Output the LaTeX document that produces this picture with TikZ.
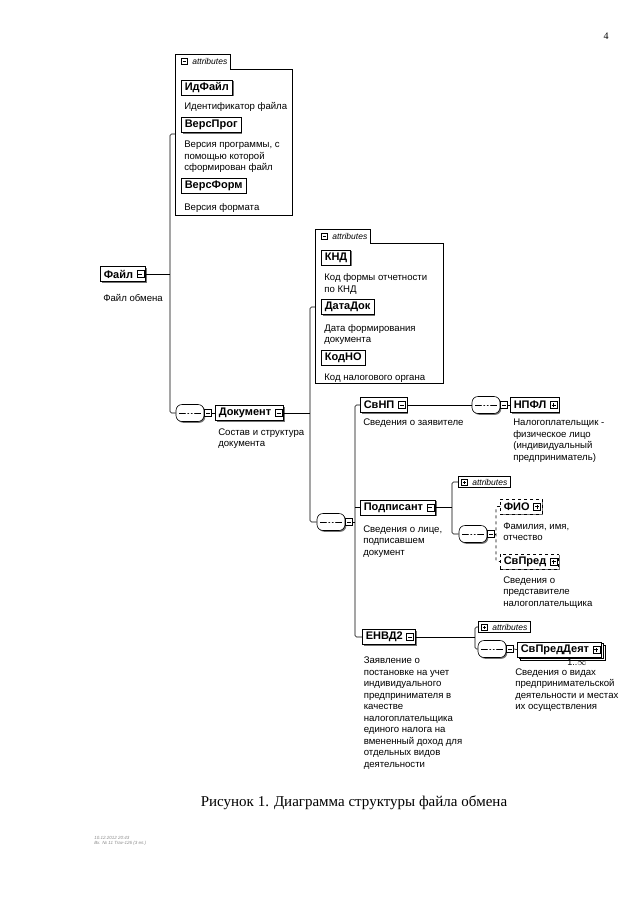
\documentclass[tikz,border=0pt]{standalone}
\usepackage{fontspec}
\setmainfont{Liberation Serif}
\newfontfamily\arial{Liberation Sans}
\usetikzlibrary{positioning,shadows}

% knopka at the right end of an element box
\newcommand{\kvadrat}[2]{\node[#1] at ([xshift=-5.5pt]#2.east) {};}
\newcommand{\mesto}{\hspace{9pt}\null}

\begin{document}
\begin{tikzpicture}[x=1pt, y=-1pt, line width=0.6pt,
    font=\arial\fontsize{9.6}{11.5}\selectfont]
  \tikzstyle{ramka}=[draw, fill=white, anchor=west, inner xsep=3.5pt, inner ysep=0pt,
    minimum height=15pt, font=\arial\bfseries\fontsize{11}{12}\selectfont];
  \tikzstyle{elem}=[ramka, drop shadow={shadow xshift=1.3pt, shadow yshift=-1.3pt, fill=black!55, opacity=1}];
  \tikzstyle{neob}=[elem, dashed];
  \tikzstyle{mnog}=[ramka, double copy shadow={shadow xshift=1.6pt, shadow yshift=-1.6pt}];
  \tikzstyle{opis}=[align=left, inner sep=0pt];
  \tikzstyle{vkladka}=[inner xsep=3pt, inner ysep=0pt, minimum height=12pt,
    font=\arial\itshape\fontsize{8.5}{10}\selectfont];
  \tikzstyle{znak}=[draw, fill=white, minimum size=7pt, inner sep=0pt, line width=0.5pt];
  \tikzstyle{minus}=[znak, path picture={
      \draw ([xshift=1.5pt]path picture bounding box.west) -- ([xshift=-1.5pt]path picture bounding box.east);}];
  \tikzstyle{plus}=[znak, path picture={
      \draw ([xshift=1.5pt]path picture bounding box.west) -- ([xshift=-1.5pt]path picture bounding box.east)
            ([yshift=1.5pt]path picture bounding box.south) -- ([yshift=-1.5pt]path picture bounding box.north);}];
  \tikzstyle{posl}=[draw, fill=white, rounded corners=6pt, minimum width=28pt, minimum height=17pt,
    inner sep=0pt, drop shadow={shadow xshift=1.3pt, shadow yshift=-1.3pt, fill=black!55, opacity=1},
    path picture={
      \draw ([xshift=3pt]path picture bounding box.west) -- ([xshift=-3pt]path picture bounding box.east);
      \foreach \d in {-3.4,0,3.4}
        \fill ([xshift=\d pt]path picture bounding box.center) circle (1.3pt);}];

  \path[use as bounding box, fill=white] (0,0) rectangle (640,905);

  \node[font=\fontsize{10}{12}\selectfont] (stranica) at (606,36) {4};

  % attributes of Fajl
  \node[anchor=north west, minimum width=117pt, minimum height=146pt, inner sep=0pt] (atr1) at (175,69) {};
  \node[vkladka, anchor=south west, minimum height=14pt] (atr1-v) at (atr1.north west) {\hspace{14pt}attributes};
  \draw (atr1.south west) -- (atr1-v.north west) -- (atr1-v.north east) -- (atr1-v.south east)
        -- (atr1.north east) -- (atr1.south east) -- cycle;
  \node[minus, minimum size=6pt] at ([xshift=9pt]atr1-v.west) {};

  \node[elem] (idfajl) at (181,87.5) {ИдФайл};
  \node[opis, below right=6.5pt and 3pt of idfajl.south west] (idfajl-o) {Идентификатор файла};
  \node[elem] (versprog) at (181,125) {ВерсПрог};
  \node[opis, below right=8pt and 3pt of versprog.south west] (versprog-o) {Версия программы, с\\помощью которой\\сформирован файл};
  \node[elem] (versform) at (181,185.5) {ВерсФорм};
  \node[opis, below right=10pt and 3pt of versform.south west] (versform-o) {Версия формата};

  % Fajl
  \node[elem] (fajl) at (100,274) {Файл\mesto};
  \kvadrat{minus}{fajl}
  \node[opis, below right=12pt and 3pt of fajl.south west] (fajl-o) {Файл обмена};

  \node[posl] (posl1) at (190,413) {};
  \node[minus, right=0pt of posl1] (posl1-z) {};
  \node[elem] (dokument) at (215,413) {Документ\mesto};
  \kvadrat{minus}{dokument}
  \node[opis, below right=7.5pt and 3pt of dokument.south west] (dokument-o) {Состав и структура\\документа};

  % attributes of Dokument
  \node[anchor=north west, minimum width=128pt, minimum height=140pt, inner sep=0pt] (atr2) at (315,243) {};
  \node[vkladka, anchor=south west, minimum height=13pt] (atr2-v) at (atr2.north west) {\hspace{14pt}attributes};
  \draw (atr2.south west) -- (atr2-v.north west) -- (atr2-v.north east) -- (atr2-v.south east)
        -- (atr2.north east) -- (atr2.south east) -- cycle;
  \node[minus, minimum size=6pt] at ([xshift=9pt]atr2-v.west) {};

  \node[elem] (knd) at (321,257.5) {КНД};
  \node[opis, below right=8pt and 3pt of knd.south west] (knd-o) {Код формы отчетности\\по КНД};
  \node[elem] (datadok) at (321,307) {ДатаДок};
  \node[opis, below right=9pt and 3pt of datadok.south west] (datadok-o) {Дата формирования\\документа};
  \node[elem] (kodno) at (321,357.5) {КодНО};
  \node[opis, below right=8pt and 3pt of kodno.south west] (kodno-o) {Код налогового органа};

  \node[posl] (posl2) at (331,522) {};
  \node[minus, right=0pt of posl2] (posl2-z) {};

  % SvNP
  \node[elem] (svnp) at (360,405) {СвНП\mesto};
  \kvadrat{minus}{svnp}
  \node[opis, below right=6pt and 3pt of svnp.south west] (svnp-o) {Сведения о заявителе};
  \node[posl] (posl3) at (486,405) {};
  \node[minus, right=0pt of posl3] (posl3-z) {};
  \node[elem] (npfl) at (510,405) {НПФЛ\mesto};
  \kvadrat{plus}{npfl}
  \node[opis, below right=6pt and 3pt of npfl.south west] (npfl-o) {Налогоплательщик -\\физическое лицо\\(индивидуальный\\предприниматель)};

  % Podpisant
  \node[elem] (podpisant) at (360,507.5) {Подписант\mesto};
  \kvadrat{minus}{podpisant}
  \node[opis, below right=10pt and 3pt of podpisant.south west] (podpisant-o) {Сведения о лице,\\подписавшем\\документ};
  \node[vkladka, draw, anchor=west, minimum height=11.5pt] (atr3) at (458,482) {\hspace{11pt}attributes};
  \node[plus, minimum size=6pt] at ([xshift=6pt]atr3.west) {};
  \node[posl] (posl4) at (473,534) {};
  \node[minus, right=0pt of posl4] (posl4-z) {};
  \node[neob] (fio) at (500,506.5) {ФИО\mesto};
  \kvadrat{plus}{fio}
  \node[opis, below right=8pt and 3pt of fio.south west] (fio-o) {Фамилия, имя,\\отчество};
  \node[neob] (svpred) at (500,561.5) {СвПред\mesto};
  \kvadrat{plus}{svpred}
  \node[opis, below right=7pt and 3pt of svpred.south west] (svpred-o) {Сведения о\\представителе\\налогоплательщика};

  % ENVD2
  \node[elem] (envd2) at (362,637) {ЕНВД2\mesto};
  \kvadrat{minus}{envd2}
  \node[opis, below right=12pt and 1.5pt of envd2.south west] (envd2-o) {Заявление о\\постановке на учет\\индивидуального\\предпринимателя в\\качестве\\налогоплательщика\\единого налога на\\вмененный доход для\\отдельных видов\\деятельности};
  \node[vkladka, draw, anchor=west, minimum height=11.5pt] (atr4) at (478,627) {\hspace{11pt}attributes};
  \node[plus, minimum size=6pt] at ([xshift=6pt]atr4.west) {};
  \node[posl] (posl5) at (492,649) {};
  \node[minus, right=0pt of posl5] (posl5-z) {};
  \node[mnog] (svpreddeyat) at (517,649.5) {СвПредДеят\mesto};
  \kvadrat{plus}{svpreddeyat}
  \node[inner sep=0pt, font=\arial\fontsize{9}{10}\selectfont] (kratn) at (577,662.5) {1..$\infty$};
  \node[opis, anchor=north west] (svpreddeyat-o) at (515,668) {Сведения о видах\\предпринимательской\\деятельности и местах\\их осуществления};

  % vetki
  \coordinate (s1a) at (170,134);
  \coordinate (s1b) at (170,413);
  \coordinate (s2a) at (310,307);
  \coordinate (s2b) at (310,522);
  \coordinate (s3a) at (355,405);
  \coordinate (s4a) at (452,482);
  \coordinate (s4b) at (452,534);
  \coordinate (s5a) at (496,506.5);
  \coordinate (s5b) at (496,561.5);
  \coordinate (s6a) at (475,627);
  \coordinate (s6b) at (475,649);

  \draw[rounded corners=1.5pt] (atr1.west |- s1a) -- (s1a) -- (s1b) -- (posl1.west);
  \draw (fajl.east) -- (fajl.east -| s1a);
  \draw (posl1-z.east) -- (dokument.west);
  \draw (dokument.east) -- (dokument.east -| s2a);
  \draw[rounded corners=1.5pt] (atr2.west |- s2a) -- (s2a) -- (s2b) -- (posl2.west);
  \draw (posl2-z.east) -- (posl2-z.east -| s3a);
  \draw[rounded corners=1.5pt] (svnp.west) -- (s3a) -- (s3a |- envd2.west) -- (envd2.west);
  \draw (podpisant.west) -- (podpisant.west -| s3a);
  \draw (svnp.east) -- (posl3.west);
  \draw (posl3-z.east) -- (npfl.west);
  \draw (podpisant.east) -- (podpisant.east -| s4a);
  \draw[rounded corners=1.5pt] (atr3.west) -- (s4a) -- (s4b) -- (posl4.west);
  \draw (posl4-z.east) -- (posl4-z.east -| s5a);
  \draw[dashed, rounded corners=1.5pt] (fio.west) -- (s5a) -- (s5b) -- (svpred.west);
  \draw (envd2.east) -- (envd2.east -| s6a);
  \draw[rounded corners=1.5pt] (atr4.west) -- (s6a) -- (s6b) -- (posl5.west);
  \draw (posl5-z.east) -- (svpreddeyat.west);

  \node[font=\fontsize{15}{17}\selectfont] (podpis) at (354,803) {Рисунок 1. Диаграмма структуры файла обмена};
  \node[opis, anchor=north west, text=black!45, font=\arial\itshape\fontsize{4.5}{5.5}\selectfont] (shtamp) at (94,836) {10.12.2012 20:43\\Вх. № 11 Trav-126 (3 ел.)};
\end{tikzpicture}
\end{document}
